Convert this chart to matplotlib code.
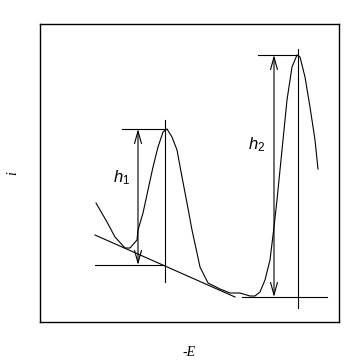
import matplotlib.pyplot as plt

# --- data (arbitrary units) ---
E_curve = [56, 67, 75, 85, 90, 97, 98, 103, 108, 113, 118, 123, 127, 132, 137, 142, 147,
           152, 157, 160, 168, 180, 190, 200, 210, 215, 220, 225, 230, 234, 237, 242,
           247, 252, 257, 260, 265, 270, 275, 278]
i_curve = [119, 100, 85, 74, 74, 82, 92, 109, 132, 155, 175, 190, 193, 185, 172, 145, 119,
           92, 69, 55, 39, 33, 29, 29, 26, 26, 30, 42, 62, 95, 122, 172,
           222, 255, 267, 265, 245, 215, 182, 153]

# tangent (base) line
base_E = [55, 195]
base_i = [87, 25]

# peak 1
p1_E, p1_top, p1_bot = 125, 193, 57
p1_top_E = [82, 127]
p1_bot_E = [55, 125]
p1_vert = [40, 202]
p1_arrow_E = 98

# peak 2
p2_E, p2_top, p2_bot = 258, 267, 25
p2_top_E = [218, 258]
p2_bot_E = [202, 287]
p2_vert = [14, 273]
p2_arrow_E = 234

plt.rcParams['mathtext.fontset'] = 'custom'
plt.rcParams['mathtext.it'] = 'Liberation Sans:italic'
plt.rcParams['mathtext.rm'] = 'Liberation Sans'

fig = plt.figure(figsize=(3.58, 3.62), dpi=100)
ax = fig.add_axes([40 / 358, 40 / 362, 299 / 358, 298 / 362])
ax.set_xlim(0, 299)
ax.set_ylim(0, 298)
ax.set_xticks([])
ax.set_yticks([])
for s in ax.spines.values():
    s.set_linewidth(1.0)

lw = 0.8
ax.plot(E_curve, i_curve, color='black', lw=lw)
ax.plot(base_E, base_i, color='black', lw=lw)

arrow = dict(arrowstyle='<->,head_length=0.9,head_width=0.25',
             mutation_scale=10, lw=lw, color='black', shrinkA=0, shrinkB=0)

# peak 1 construction
ax.plot(p1_top_E, [p1_top, p1_top], color='black', lw=lw)
ax.plot(p1_bot_E, [p1_bot, p1_bot], color='black', lw=lw)
ax.plot([p1_E, p1_E], p1_vert, color='black', lw=lw)
ax.annotate('', xy=(p1_arrow_E, p1_top), xytext=(p1_arrow_E, p1_bot), arrowprops=arrow)

# peak 2 construction
ax.plot(p2_top_E, [p2_top, p2_top], color='black', lw=lw)
ax.plot(p2_bot_E, [p2_bot, p2_bot], color='black', lw=lw)
ax.plot([p2_E, p2_E], p2_vert, color='black', lw=lw)
ax.annotate('', xy=(p2_arrow_E, p2_top), xytext=(p2_arrow_E, p2_bot), arrowprops=arrow)

ax.text(82, 144, r'$h_1$', fontsize=12, ha='center', va='center')
ax.text(217, 177, r'$h_2$', fontsize=12, ha='center', va='center')

# axis labels
fig.text(189 / 358, 1 - 352 / 362, '-E', fontsize=10, family='Liberation Serif',
         style='italic', ha='center', va='center')
fig.text(13 / 358, 1 - 173 / 362, 'i', fontsize=10, family='Liberation Serif',
         style='italic', ha='center', va='center', rotation=90)

fig.savefig('out.png', dpi=100)
